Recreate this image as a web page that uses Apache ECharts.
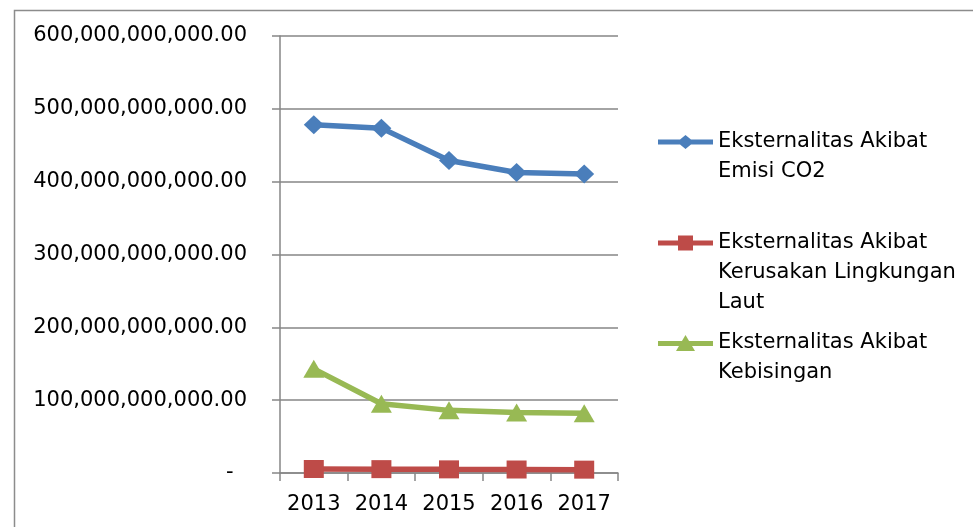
<!DOCTYPE html>
<html><head><meta charset="utf-8">
<script src="https://cdn.jsdelivr.net/npm/echarts@6/dist/echarts.min.js"></script>
<style>html,body{margin:0;padding:0;background:#fff}#c{width:973px;height:527px}</style>
</head><body><div id="c"></div>
<script>
const years = ['2013', '2014', '2015', '2016', '2017'];
const emisiCO2 = [478e9, 473.5e9, 429e9, 412.5e9, 410.5e9];
const kerusakanLaut = [5.5e9, 5.3e9, 5.0e9, 4.8e9, 4.6e9];
const kebisingan = [143e9, 95e9, 86e9, 83e9, 82e9];
const seriesNames = [
  'Eksternalitas Akibat\nEmisi CO2',
  'Eksternalitas Akibat\nKerusakan Lingkungan\nLaut',
  'Eksternalitas Akibat\nKebisingan'
];
const seriesColors = ['#4A7EBB', '#BE4B48', '#98B954'];

const FONT = 'DejaVu Sans';
const gridCol = '#868686';

function fmt(v) {
  if (v === 0) return '-  ';
  return v.toLocaleString('en-US', { minimumFractionDigits: 2, maximumFractionDigits: 2 });
}

// legend icons: thick line + marker, drawn as one filled path
const iconDiamond = 'path://M0,4.5 L55,4.5 L55,9.5 L0,9.5 Z M27.5,0 L36,7 L27.5,14 L19,7 Z';
const iconSquare = 'path://M0,5 L55,5 L55,10 L0,10 Z M20,0 L35,0 L35,15 L20,15 Z';
const iconTriangle = 'path://M0,6 L55,6 L55,11 L0,11 Z M27.5,0 L37,16 L18,16 Z';

const chart = echarts.init(document.getElementById('c'), null, { renderer: 'canvas' });

function mkLegend(name, top, pad, icon, h) {
  return {
    data: [{ name: name, icon: icon }],
    orient: 'vertical',
    left: 658,
    top: top,
    padding: 0,
    itemWidth: 55,
    itemHeight: h,
    selectedMode: false,
    formatter: n => '\n'.repeat(pad) + n,
    textStyle: { fontFamily: FONT, fontSize: 21, color: '#000', lineHeight: 30 }
  };
}

chart.setOption({
  animation: false,
  backgroundColor: '#fff',
  graphic: [{
    type: 'rect',
    shape: { x: 14.5, y: 10.5, width: 1000, height: 600 },
    style: { fill: 'none', stroke: '#8c8c8c', lineWidth: 1.5 },
    silent: true
  }],
  grid: { left: 280, right: 355, top: 36, bottom: 54, containLabel: false },
  legend: [
    mkLegend(seriesNames[0], 97, 1, iconDiamond, 14),
    mkLegend(seriesNames[1], 168, 2, iconSquare, 15),
    mkLegend(seriesNames[2], 298, 1, iconTriangle, 16)
  ],
  xAxis: {
    type: 'category',
    data: years,
    boundaryGap: true,
    axisLine: { lineStyle: { color: gridCol, width: 1.5 } },
    axisTick: { show: true, length: 8, interval: 0, alignWithLabel: false, lineStyle: { color: gridCol, width: 1.5 } },
    axisLabel: { fontFamily: FONT, fontSize: 21, color: '#000', margin: 21, interval: 0, hideOverlap: false },
    splitLine: { show: false }
  },
  yAxis: {
    type: 'value',
    min: 0,
    max: 600e9,
    interval: 100e9,
    axisLine: { show: true, lineStyle: { color: gridCol, width: 1.5 } },
    axisTick: { show: true, length: 8, lineStyle: { color: gridCol, width: 1.5 } },
    axisLabel: { fontFamily: FONT, fontSize: 21, color: '#000', margin: 33, formatter: fmt },
    splitLine: { show: true, lineStyle: { color: gridCol, width: 1.5 } }
  },
  series: [
    {
      name: seriesNames[0], type: 'line', data: emisiCO2,
      symbol: 'diamond', symbolSize: [20, 19],
      itemStyle: { color: seriesColors[0] },
      lineStyle: { color: seriesColors[0], width: 5.5 },
      emphasis: { disabled: true }
    },
    {
      name: seriesNames[1], type: 'line', data: kerusakanLaut,
      symbol: 'rect', symbolSize: [20, 18],
      itemStyle: { color: seriesColors[1] },
      lineStyle: { color: seriesColors[1], width: 5.5 },
      emphasis: { disabled: true }
    },
    {
      name: seriesNames[2], type: 'line', data: kebisingan,
      symbol: 'triangle', symbolSize: [21, 18],
      itemStyle: { color: seriesColors[2] },
      lineStyle: { color: seriesColors[2], width: 5.5 },
      emphasis: { disabled: true }
    }
  ]
});
</script>
</body></html>
